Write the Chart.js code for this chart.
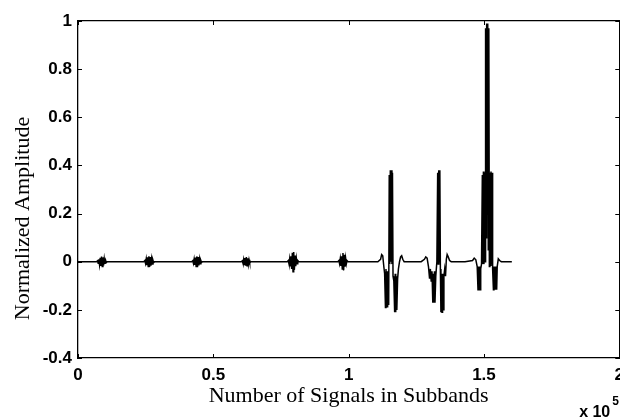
<!DOCTYPE html>
<html lang="en">

<head>
    <meta charset="UTF-8">
    <title>Normalized Amplitude - Subbands</title>
    <style>
        html, body {
            margin: 0;
            padding: 0;
            background: #fff;
            overflow: hidden;
        }

        .chart-box {
            width: 631px;
            height: 419px;
        }
    </style>
</head>

<body>
    <div class="chart-box">
        <canvas id="signalChart" width="631" height="419"></canvas>
    </div>
    <script src="https://cdn.jsdelivr.net/npm/chart.js"></script>
    <script>
        // sample index and amplitude, one line per burst
        const samples = [
            0,
            6800, 7200, 7450, 7700, 7950, 8200, 8450, 8700, 8950, 9200, 9450, 9700, 9950, 10200, 10450, 10800,
            24300, 24700, 24950, 25200, 25450, 25700, 25950, 26200, 26450, 26700, 26950, 27200, 27450, 27700, 27950, 28300,
            42000, 42400, 42650, 42900, 43150, 43400, 43650, 43900, 44150, 44400, 44650, 44900, 45150, 45400, 45650, 46000,
            60300, 60700, 60950, 61200, 61450, 61700, 61950, 62200, 62450, 62700, 62950, 63200, 63450, 63800,
            77300, 77700, 77950, 78200, 78450, 78700, 78950, 79200, 79450, 79700, 79950, 80200, 80450, 80700, 80950, 81200, 81600,
            96000, 96400, 96650, 96900, 97150, 97400, 97650, 97900, 98150, 98400, 98650, 98900, 99150, 99400, 99800,
            110800, 111800, 112200, 112600, 113000, 113300, 113600, 113800, 114000, 114200, 114400, 114600, 114800,
            115000, 115200, 115400, 115600, 115800, 116000, 116200, 116400, 116700, 117000, 117200, 117400, 117600,
            117800, 118100, 118400, 118800, 119200, 119600, 120000, 120500,
            126800, 128000, 128500, 129000, 129500, 129900, 130200, 130500, 130800, 131100, 131300, 131500, 131700,
            131900, 132200, 132600, 132900, 133100, 133300, 133500, 133700, 133900, 134100, 134300, 134500, 134700,
            134900, 135200, 135500, 135800, 136100, 136400, 136800, 137300, 137900,
            143000, 145800, 146400, 147000, 147500, 147800, 148000, 148200, 148400, 148600, 148800, 149100, 149400,
            149600, 149800, 150000, 150200, 150400, 150600, 150800, 151000, 151200, 151400, 151600, 151800, 152000,
            152200, 152400, 152600, 152800, 153000, 153200, 153500, 153700, 153900, 154100, 154300, 154500, 154700,
            154900, 155300, 155800, 156400,
            160300
        ];
        const amplitude = [
            0,
            0, 0.004, -0.006, 0.01, -0.012, 0.016, -0.018, 0.021, -0.02, 0.018, -0.015, 0.012, -0.009, 0.006, -0.004, 0,
            0, 0.005, -0.007, 0.011, -0.014, 0.018, -0.02, 0.023, -0.022, 0.019, -0.016, 0.012, -0.009, 0.006, -0.004, 0,
            0, 0.004, -0.007, 0.01, -0.013, 0.017, -0.02, 0.022, -0.023, 0.019, -0.015, 0.011, -0.008, 0.005, -0.003, 0,
            0, 0.004, -0.006, 0.009, -0.012, 0.015, -0.017, 0.019, -0.017, 0.014, -0.011, 0.008, -0.005, 0,
            0, 0.005, -0.008, 0.012, -0.017, 0.023, -0.03, 0.037, -0.042, 0.04, -0.034, 0.026, -0.019, 0.013, -0.008, 0.005, 0,
            0, 0.005, -0.008, 0.012, -0.017, 0.023, -0.03, 0.036, -0.036, 0.029, -0.021, 0.014, -0.009, 0.005, 0,
            0, 0.01, 0.03, 0.025, -0.02, -0.05, -0.19, -0.03, -0.19, -0.04, -0.19, -0.05, -0.18,
            0.36, -0.01, 0.38, 0.0, 0.38, -0.01, 0.37, -0.06, -0.08, -0.21, -0.05, -0.21, -0.06,
            -0.2, -0.07, -0.03, 0.0, 0.02, 0.025, 0.01, 0,
            0, 0.01, 0.02, 0.015, -0.02, -0.07, -0.03, -0.08, -0.04, -0.17, -0.05, -0.17, -0.04,
            -0.17, -0.06, 0.0, 0.37, -0.01, 0.38, 0.0, 0.38, -0.03, -0.21, -0.05, -0.21, -0.05,
            -0.2, -0.06, -0.03, -0.06, 0.01, 0.03, 0.02, 0.005, 0,
            0, 0.005, 0.015, 0.008, -0.02, -0.116, -0.02, -0.116, -0.02, -0.116, -0.03, -0.01, 0.36,
            -0.01, 0.375, -0.01, 0.37, 0.0, 0.97, 0.1, 0.99, 0.2, 0.99, 0.05, 0.97, -0.02,
            0.37, -0.015, 0.375, -0.01, 0.37, -0.03, -0.116, -0.02, -0.116, -0.02, -0.116, -0.02, -0.116,
            -0.02, 0.012, 0.005, 0,
            0
        ];

        const xTicks = [0, 0.5, 1, 1.5, 2];           // x 10^5
        const yTicks = [-0.4, -0.2, 0, 0.2, 0.4, 0.6, 0.8, 1];
        const xScaleExp = 5;

        const tickFont = { family: 'Arial, "Liberation Sans", sans-serif', size: 17, weight: 'bold' };
        const titleFont = { family: '"Times New Roman", "Liberation Serif", serif', size: 22 };

        const points = samples.map((s, i) => ({ x: s, y: amplitude[i] }));
        const xMax = xTicks[xTicks.length - 1] * Math.pow(10, xScaleExp);

        // inward tick marks on all four sides, y label and the exponent note
        const boxTicks = {
            id: 'boxTicks',
            afterDraw(chart) {
                const ctx = chart.ctx;
                const area = chart.chartArea;
                const xs = chart.scales.x;
                const ys = chart.scales.y;
                const len = 4;
                ctx.save();
                ctx.strokeStyle = '#000';
                ctx.lineWidth = 1;
                ctx.beginPath();
                xs.ticks.forEach(t => {
                    const px = Math.round(xs.getPixelForValue(t.value)) + 0.5;
                    ctx.moveTo(px, area.bottom);
                    ctx.lineTo(px, area.bottom - len);
                    ctx.moveTo(px, area.top);
                    ctx.lineTo(px, area.top + len);
                });
                ys.ticks.forEach(t => {
                    const py = Math.round(ys.getPixelForValue(t.value)) + 0.5;
                    ctx.moveTo(area.left, py);
                    ctx.lineTo(area.left + len, py);
                    ctx.moveTo(area.right, py);
                    ctx.lineTo(area.right - len, py);
                });
                ctx.stroke();

                ctx.fillStyle = '#000';

                // y axis label, sits a bit below the axis middle
                ctx.save();
                ctx.translate(23, (area.top + area.bottom) / 2 + 29);
                ctx.rotate(-Math.PI / 2);
                ctx.textAlign = 'center';
                ctx.textBaseline = 'middle';
                ctx.font = titleFont.size + 'px ' + titleFont.family;
                ctx.fillText('Normalized Amplitude', 0, 0);
                ctx.restore();

                ctx.textBaseline = 'alphabetic';
                ctx.textAlign = 'right';
                ctx.font = 'bold 16px Arial, "Liberation Sans", sans-serif';
                ctx.fillText('x 10', area.right - 9, chart.height - 2);
                ctx.textAlign = 'left';
                ctx.font = 'bold 12px Arial, "Liberation Sans", sans-serif';
                ctx.fillText(String(xScaleExp), area.right - 7, chart.height - 14);
                ctx.restore();
            }
        };

        const ctx1 = document.getElementById('signalChart').getContext('2d');
        new Chart(ctx1, {
            type: 'scatter',
            data: {
                datasets: [{
                    data: points,
                    showLine: true,
                    borderColor: '#000',
                    borderWidth: 1.5,
                    pointRadius: 0,
                    tension: 0
                }]
            },
            options: {
                responsive: false,
                animation: false,
                devicePixelRatio: 1,
                layout: { padding: 0 },
                plugins: {
                    legend: { display: false },
                    tooltip: { enabled: false }
                },
                scales: {
                    x: {
                        type: 'linear',
                        position: 'bottom',
                        min: 0,
                        max: xMax,
                        afterBuildTicks: s => { s.ticks = xTicks.map(v => ({ value: v * Math.pow(10, xScaleExp) })); },
                        afterFit: s => { s.height = 61; },
                        ticks: {
                            color: '#000',
                            font: tickFont,
                            padding: 7,
                            maxRotation: 0,
                            callback: v => String(+(v / Math.pow(10, xScaleExp)).toFixed(1))
                        },
                        grid: { drawOnChartArea: false, drawTicks: false },
                        border: { color: '#000', width: 1.3 },
                        title: {
                            display: true,
                            text: 'Number of Signals in Subbands',
                            color: '#000',
                            font: titleFont,
                            padding: { top: 0, bottom: 10 }
                        }
                    },
                    x2: {
                        type: 'linear',
                        position: 'top',
                        min: 0,
                        max: xMax,
                        afterFit: s => { s.height = 21; },
                        ticks: { display: false },
                        grid: { drawOnChartArea: false, drawTicks: false },
                        border: { color: '#000', width: 1.3 }
                    },
                    y: {
                        type: 'linear',
                        position: 'left',
                        min: -0.4,
                        max: 1,
                        afterBuildTicks: s => { s.ticks = yTicks.map(v => ({ value: v })); },
                        afterFit: s => { s.width = 78; },
                        ticks: {
                            color: '#000',
                            font: tickFont,
                            padding: 6,
                            callback: v => String(+v.toFixed(1))
                        },
                        grid: { drawOnChartArea: false, drawTicks: false },
                        border: { color: '#000', width: 1.3 }
                    },
                    y2: {
                        type: 'linear',
                        position: 'right',
                        min: -0.4,
                        max: 1,
                        afterFit: s => { s.width = 7; },
                        ticks: { display: false },
                        grid: { drawOnChartArea: false, drawTicks: false },
                        border: { color: '#000', width: 1.3 }
                    }
                }
            },
            plugins: [boxTicks]
        });
    </script>
</body>
</html>
